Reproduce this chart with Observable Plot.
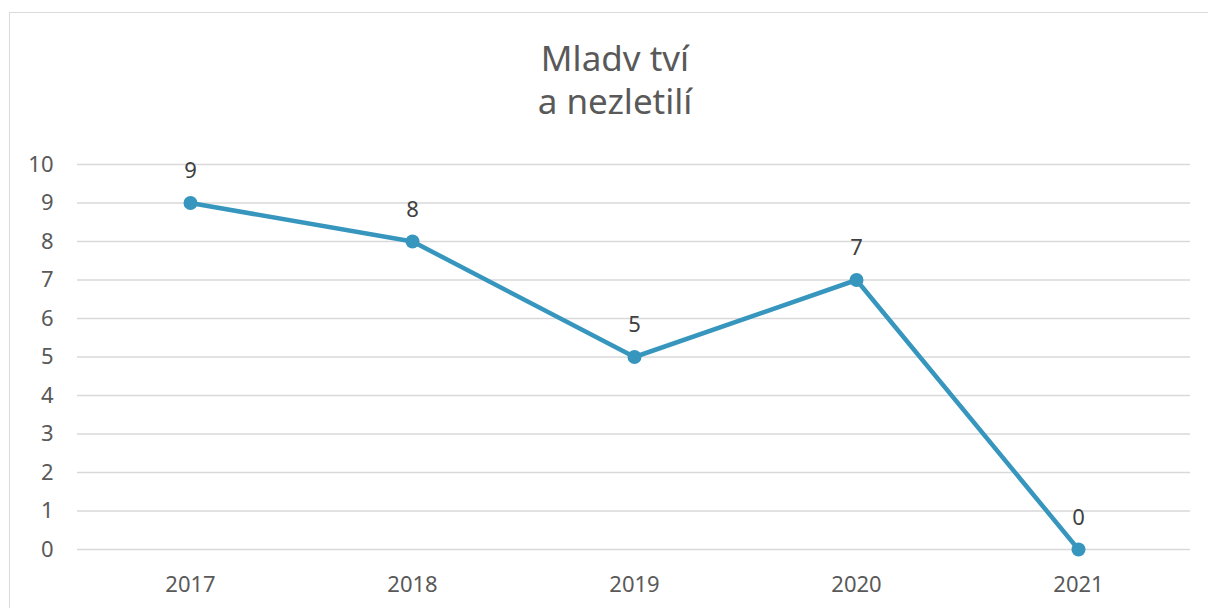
<!DOCTYPE html>
<html>
<head>
<meta charset="utf-8">
<script src="https://cdn.jsdelivr.net/npm/d3@7"></script>
<script src="https://cdn.jsdelivr.net/npm/@observablehq/plot@0.6"></script>
<style>
  html, body { margin: 0; padding: 0; background: #fff; }
  #wrap { position: relative; width: 1208px; height: 608px; overflow: hidden; font-family: "Noto Sans", "Open Sans", sans-serif; }
  #border { position: absolute; left: 9px; top: 12px; width: 1230px; height: 640px; border: 1.5px solid #d9d9d9; box-sizing: border-box; }
  #title { position: absolute; left: 415px; width: 400px; top: 36px; text-align: center; font-size: 35px; line-height: 43px; color: #595959; }
  #chart { position: absolute; left: 0; top: 0; }
</style>
</head>
<body>
<div id="wrap">
  <div id="border"></div>
  <div id="title">Mladv tví<br>a nezletilí</div>
  <div id="chart"></div>
</div>
<script>
const years = ["2017", "2018", "2019", "2020", "2021"];
const values = [9, 8, 5, 7, 0];
const yTicks = [0, 1, 2, 3, 4, 5, 6, 7, 8, 9, 10];

const data = years.map((y, i) => ({year: y, value: values[i]}));
const color = "#3796be";

const plot = Plot.plot({
  width: 1208,
  height: 608,
  marginLeft: 77,
  marginRight: 18,
  marginTop: 164,
  marginBottom: 59,
  style: {fontFamily: "'Noto Sans', 'Open Sans', sans-serif", fontSize: "22px", color: "#595959", background: "transparent"},
  x: {type: "point", domain: years, padding: 0.5, label: null},
  y: {domain: [0, 10], label: null},
  marks: [
    Plot.ruleY(yTicks, {stroke: "#d9d9d9", strokeWidth: 1.5}),
    Plot.axisY({ticks: yTicks, tickSize: 0, tickPadding: 24, label: null, fill: "#595959", fontSize: 22}),
    Plot.axisX({tickSize: 0, tickPadding: 27, label: null, fill: "#595959", fontSize: 22}),
    Plot.line(data, {x: "year", y: "value", stroke: color, strokeWidth: 4.5}),
    Plot.dot(data, {x: "year", y: "value", fill: color, r: 7}),
    Plot.text(data, {x: "year", y: "value", text: d => String(d.value), dy: -32, fill: "#404040", fontSize: 22})
  ]
});
document.getElementById("chart").appendChild(plot);
</script>
</body>
</html>
